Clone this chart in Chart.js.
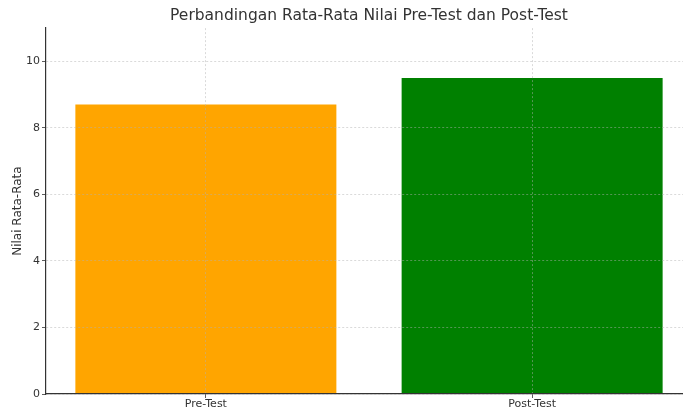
<!DOCTYPE html>
<html>
<head>
<meta charset="utf-8">
<script src="https://cdn.jsdelivr.net/npm/chart.js@4.4.0/dist/chart.umd.min.js"></script>
<style>
    html, body { margin: 0; padding: 0; background: #fff; overflow: hidden; }
    #wrap { width: 700px; height: 410px; }
</style>
</head>
<body>
<div id="wrap"><canvas id="chart"></canvas></div>
<script>
// data
const categories = ['Pre-Test', 'Post-Test'];
const meanScores = [8.7, 9.5];
const barColors = ['#ffa500', '#008000'];
const yTicks = [0, 2, 4, 6, 8, 10];

const font = 'DejaVu Sans';
const gridColor = 'rgba(176,176,176,0.6)';

const points = meanScores.map(function (v, i) { return { x: i, y: v }; });

const ctx = document.getElementById('chart').getContext('2d');
const chart = new Chart(ctx, {
    type: 'bar',
    data: {
        datasets: [{
            data: points,
            backgroundColor: barColors,
            borderWidth: 0,
            barPercentage: 0.8,
            categoryPercentage: 1
        }]
    },
    options: {
        responsive: true,
        maintainAspectRatio: false,
        animation: false,
        layout: { padding: { left: 0, right: 8, top: 0, bottom: 0 } },
        plugins: {
            legend: { display: false },
            tooltip: { enabled: false },
            title: {
                display: true,
                fullSize: false,
                text: 'Perbandingan Rata-Rata Nilai Pre-Test dan Post-Test',
                color: '#333',
                font: { family: font, size: 15.5, weight: 'normal' },
                padding: { top: 6.5, bottom: 3 }
            }
        },
        scales: {
            x: {
                type: 'linear',
                offset: false,
                min: -0.49,
                max: 1.49,
                afterBuildTicks: function (scale) {
                    scale.ticks = categories.map(function (c, i) { return { value: i }; });
                },
                afterFit: function (scale) { scale.height = 16; },
                ticks: {
                    color: '#333',
                    padding: 0,
                    font: { family: font, size: 11 },
                    callback: function (v) { return categories[v]; }
                },
                grid: {
                    z: 1,
                    offset: false,
                    color: gridColor,
                    lineWidth: 0.8,
                    tickColor: '#333',
                    tickLength: 4,
                    tickBorderDash: []
                },
                border: { display: true, z: 1, color: '#333', width: 1.2, dash: [2, 2] }
            },
            y: {
                min: 0,
                max: 11,
                afterBuildTicks: function (scale) {
                    scale.ticks = yTicks.map(function (v) { return { value: v }; });
                },
                afterFit: function (scale) { scale.width = 46; },
                ticks: {
                    color: '#333',
                    padding: 2,
                    font: { family: font, size: 11 }
                },
                grid: {
                    z: 1,
                    color: gridColor,
                    lineWidth: 0.8,
                    tickColor: '#333',
                    tickLength: 4,
                    tickBorderDash: []
                },
                border: { display: true, z: 1, color: '#333', width: 1.2, dash: [2, 2] },
                title: {
                    display: true,
                    text: 'Nilai Rata-Rata',
                    color: '#333',
                    font: { family: font, size: 12 },
                    padding: { top: 11, bottom: 0 }
                }
            }
        }
    }
});
</script>
</body>
</html>
